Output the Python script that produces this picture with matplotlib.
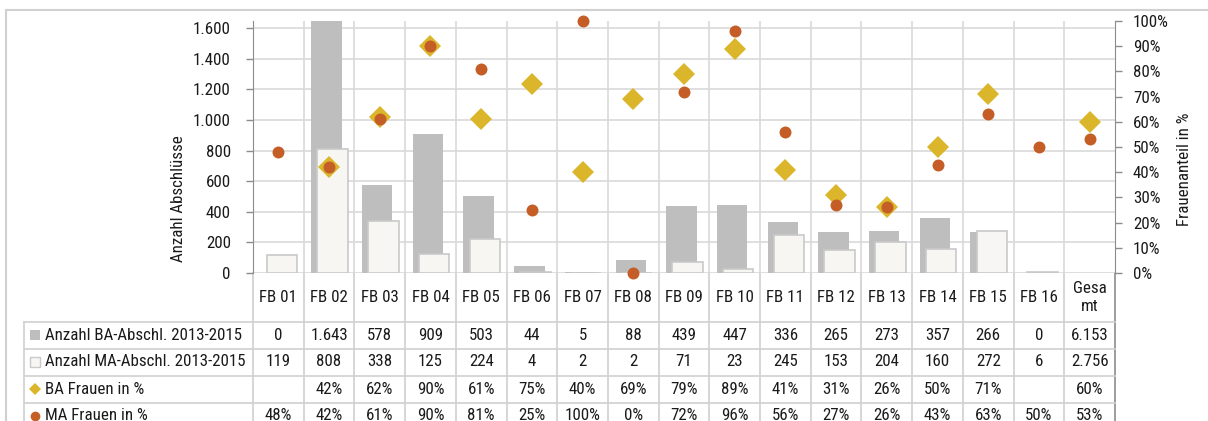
import matplotlib
matplotlib.use("Agg")
import matplotlib.pyplot as plt
from matplotlib import font_manager
from matplotlib.transforms import blended_transform_factory
from matplotlib.ticker import FuncFormatter
from matplotlib.patches import Rectangle
import numpy as np

# --- data -------------------------------------------------------------
categories = ["FB 01", "FB 02", "FB 03", "FB 04", "FB 05", "FB 06", "FB 07", "FB 08",
              "FB 09", "FB 10", "FB 11", "FB 12", "FB 13", "FB 14", "FB 15", "FB 16", "Gesamt"]
header_labels = categories[:-1] + ["Gesa\nmt"]
ba_count = [0, 1643, 578, 909, 503, 44, 5, 88, 439, 447, 336, 265, 273, 357, 266, 0, 6153]
ma_count = [119, 808, 338, 125, 224, 4, 2, 2, 71, 23, 245, 153, 204, 160, 272, 6, 2756]
ba_women = [None, 42, 62, 90, 61, 75, 40, 69, 79, 89, 41, 31, 26, 50, 71, None, 60]
ma_women = [48, 42, 61, 90, 81, 25, 100, 0, 72, 96, 56, 27, 26, 43, 63, 50, 53]
row_labels = ["Anzahl BA-Abschl. 2013-2015", "Anzahl MA-Abschl. 2013-2015",
              "BA Frauen in %", "MA Frauen in %"]
left_ticks = [0, 200, 400, 600, 800, 1000, 1200, 1400, 1600]
right_ticks = [0, 10, 20, 30, 40, 50, 60, 70, 80, 90, 100]

# --- style ------------------------------------------------------------
def pick_font():
    for name in ["Liberation Sans Narrow", "Roboto Condensed", "DejaVu Sans Condensed"]:
        try:
            font_manager.findfont(font_manager.FontProperties(family=name),
                                  fallback_to_default=False)
            return name
        except Exception:
            pass
    return "DejaVu Sans"

FONT = pick_font()
plt.rcParams["font.family"] = [FONT, "DejaVu Sans"]
FS = 12.2

BA_COL = "#BEBEBE"
MA_FACE = "#F7F6F3"
MA_EDGE = "#C9C9C9"
DIA_COL = "#DBB52A"
DOT_COL = "#C45E26"
GRID = "#D9D9D9"
AXIS = "#8C8C8C"
TXT = "#1A1A1A"

W, H = 1208, 421
fig = plt.figure(figsize=(W / 100, H / 100), dpi=100)

# overlay in pixel coordinates for frame and table
ov = fig.add_axes([0, 0, 1, 1], zorder=0)
ov.set_xlim(0, W)
ov.set_ylim(H, 0)
ov.axis("off")

px_l, px_r, px_t, px_b = 253, 1115, 21, 273
ax = fig.add_axes([px_l / W, 1 - px_b / H, (px_r - px_l) / W, (px_b - px_t) / H], zorder=2)
ax.patch.set_alpha(0)
ax2 = ax.twinx()
ax2.set_zorder(3)

n = len(categories)
x = np.arange(n)
nb = n - 1  # bars only for the departments
bw = 0.6
ax.bar(x[:nb] - 0.05, ba_count[:nb], width=bw, color=BA_COL, zorder=2, linewidth=0)
ax.bar(x[:nb] + 0.07, ma_count[:nb], width=bw, color=MA_FACE, edgecolor=MA_EDGE,
       linewidth=1.2, zorder=3)

ax.set_xlim(-0.5, n - 0.5)
ax.set_ylim(0, 1646)
ax.set_yticks(left_ticks)
ax.yaxis.set_major_formatter(FuncFormatter(lambda v, p: f"{int(v):,}".replace(",", ".")))
ax.set_xticks([])
ax.grid(axis="y", color=GRID, linewidth=1.2, zorder=0)
ax.set_axisbelow(True)
for b in np.arange(-0.5, n, 1.0)[1:-1]:
    ax.axvline(b, color=GRID, linewidth=1.2, zorder=1)
for s in ["top", "bottom", "right"]:
    ax.spines[s].set_visible(False)
ax.spines["left"].set_color(AXIS)
ax.tick_params(axis="y", colors=AXIS, labelcolor=TXT, labelsize=FS, length=5, width=1, pad=11)
ax.set_ylabel("Anzahl Abschlüsse", fontsize=FS, color=TXT)
ax.yaxis.set_label_coords(-0.078, 0.294)

bx = np.array([v if v is not None else np.nan for v in ba_women], dtype=float)
mx = np.array([v if v is not None else np.nan for v in ma_women], dtype=float)
ax2.plot(x, bx, linestyle="none", marker="D", markersize=11, color=DIA_COL,
         markeredgewidth=0, clip_on=False, zorder=4)
ax2.plot(x, mx, linestyle="none", marker="o", markersize=8.6, color=DOT_COL,
         markeredgewidth=0, clip_on=False, zorder=5)
ax2.set_ylim(0, 100)
ax2.set_yticks(right_ticks)
ax2.yaxis.set_major_formatter(FuncFormatter(lambda v, p: f"{int(v)}%"))
for s in ["top", "bottom", "left"]:
    ax2.spines[s].set_visible(False)
ax2.spines["right"].set_color(AXIS)
ax2.tick_params(axis="y", colors=AXIS, labelcolor=TXT, labelsize=FS, length=5, width=1, pad=8)
ax2.set_ylabel("Frauenanteil in %", fontsize=FS, color=TXT, rotation=90)
ax2.yaxis.set_label_coords(1.072, 0.413)

# --- chart frame ------------------------------------------------------
ov.plot([6, 6], [10, H], color="#D0D0D0", linewidth=1.5)
ov.plot([6, W], [10, 10], color="#D0D0D0", linewidth=1.5)

# --- data table -------------------------------------------------------
tr = blended_transform_factory(ax.transData, ov.transData)
row_y = [322, 348.5, 375.5, 402.5, 429]
tab_left = 24
LINE = "#D0D0D0"

# vertical lines at category boundaries, down through the table
for b in np.arange(-0.5, n, 1.0):
    col = AXIS if b == n - 0.5 else LINE
    ov.plot([b, b], [px_b, H], transform=tr, color=col, linewidth=1.2, zorder=1)
# horizontal lines
for yy in row_y[:-1]:
    ov.plot([tab_left, px_r], [yy, yy], color=LINE, linewidth=1.2, zorder=1)
ov.plot([tab_left, tab_left], [row_y[0], H], color=LINE, linewidth=1.2, zorder=1)

# header labels
for i, lab in enumerate(header_labels):
    ov.text(x[i], 297.5, lab, transform=tr, ha="center", va="center", fontsize=FS,
            color=TXT, linespacing=1.3)

def fmt_count(v):
    return f"{v:,}".replace(",", ".")

rows = [
    [fmt_count(v) for v in ba_count],
    [fmt_count(v) for v in ma_count],
    ["" if v is None else f"{v}%" for v in ba_women],
    ["" if v is None else f"{v}%" for v in ma_women],
]
for r, vals in enumerate(rows):
    yc = (row_y[r] + row_y[r + 1]) / 2
    for i, s in enumerate(vals):
        ov.text(x[i], yc, s, transform=tr, ha="center", va="center", fontsize=FS, color=TXT)
    ov.text(45, yc, row_labels[r], ha="left", va="center", fontsize=FS, color=TXT)

# legend keys in the label column
k0 = (row_y[0] + row_y[1]) / 2
k1 = (row_y[1] + row_y[2]) / 2
ov.add_patch(Rectangle((30, k0 - 5), 10, 10, facecolor=BA_COL, edgecolor="none"))
ov.add_patch(Rectangle((30, k1 - 5), 10, 10, facecolor=MA_FACE, edgecolor=MA_EDGE, linewidth=1))
ov.plot([35], [(row_y[2] + row_y[3]) / 2], marker="D", markersize=6, color=DIA_COL,
        markeredgewidth=0)
ov.plot([35], [(row_y[3] + row_y[4]) / 2], marker="o", markersize=7, color=DOT_COL,
        markeredgewidth=0)

fig.savefig("out.png", dpi=100)
